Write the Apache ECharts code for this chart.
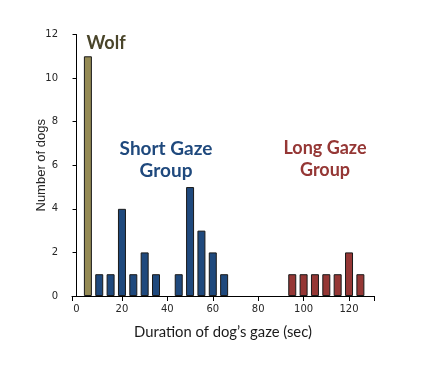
<!DOCTYPE html>
<html>
<head>
<meta charset="utf-8">
<script src="https://cdn.jsdelivr.net/npm/echarts@6/dist/echarts.min.js"></script>
<style>
  html, body { margin: 0; padding: 0; background: #ffffff; }
  #chart { width: 438px; height: 369px; }
</style>
</head>
<body>
<div id="chart"></div>
<script>
// ---- Data ----
const wolfX = [5];
const wolfY = [11];
const shortX = [10, 15, 20, 25, 30, 35, 45, 50, 55, 60, 65];
const shortY = [1, 1, 4, 1, 2, 1, 1, 5, 3, 2, 1];
const longX = [95, 100, 105, 110, 115, 120, 125];
const longY = [1, 1, 1, 1, 1, 2, 1];
const xTickLabels = [0, 20, 40, 60, 80, 100, 120];
const xTickMarks = [-2, 20, 40, 60, 80, 100, 120, 131];
const xTitle = 'Duration of dog\u2019s gaze (sec)';
const yTitle = 'Number of dogs';
const annWolf = 'Wolf';
const annShort = 'Short Gaze\nGroup';
const annLong = 'Long Gaze\nGroup';

const pair = (xs, ys) => xs.map((x, i) => [x, ys[i]]);

const chart = echarts.init(document.getElementById('chart'), null, { renderer: 'canvas' });

const barBase = {
  type: 'bar',
  barWidth: 8,
  barGap: '-100%',
  itemStyle: { borderColor: '#1a1a1a', borderWidth: 1 },
  silent: true
};

chart.setOption({
  backgroundColor: '#ffffff',
  animation: false,
  grid: { left: 72, right: 64, top: 34.5, bottom: 73, containLabel: false },
  xAxis: {
    type: 'value',
    min: -2,
    max: 131,
    name: xTitle,
    nameLocation: 'middle',
    nameGap: 29,
    nameMoveOverlap: false,
    nameTextStyle: { fontFamily: 'Lato', fontSize: 14.8, color: '#1a1a1a' },
    axisLine: { show: true, onZero: false, lineStyle: { color: '#000', width: 1 } },
    axisTick: { show: true, inside: false, length: 5, customValues: xTickMarks, lineStyle: { color: '#000' } },
    axisLabel: { customValues: xTickLabels, fontFamily: 'DejaVu Sans', fontSize: 10, color: '#262626', margin: 8 },
    splitLine: { show: false }
  },
  yAxis: {
    type: 'value',
    min: 0,
    max: 12,
    interval: 2,
    name: yTitle,
    nameLocation: 'middle',
    nameGap: 24,
    nameRotate: 90,
    nameMoveOverlap: false,
    nameTextStyle: { fontFamily: 'Liberation Sans', fontSize: 13, color: '#262626' },
    axisLine: { show: true, lineStyle: { color: '#000', width: 1 } },
    axisTick: { show: true, inside: false, length: 4, lineStyle: { color: '#000' } },
    axisLabel: { fontFamily: 'DejaVu Sans', fontSize: 10, color: '#262626', margin: 14 },
    splitLine: { show: false }
  },
  series: [
    Object.assign({}, barBase, { name: 'Wolf', data: pair(wolfX, wolfY), itemStyle: Object.assign({}, barBase.itemStyle, { color: '#948A54' }) }),
    Object.assign({}, barBase, { name: 'Short', data: pair(shortX, shortY), itemStyle: Object.assign({}, barBase.itemStyle, { color: '#1F497D' }) }),
    Object.assign({}, barBase, { name: 'Long', data: pair(longX, longY), itemStyle: Object.assign({}, barBase.itemStyle, { color: '#953735' }) })
  ],
  graphic: [
    { type: 'text', x: 86.5, y: 43, style: { text: annWolf, font: 'bold 18px Lato', fill: '#4A452A', align: 'left', verticalAlign: 'middle' } },
    { type: 'text', x: 166, y: 137.5, style: { text: annShort, font: 'bold 19px Lato', fill: '#1F497D', align: 'center', verticalAlign: 'top', lineHeight: 22 } },
    { type: 'text', x: 325, y: 137.5, style: { text: annLong, font: 'bold 18px Lato', fill: '#953735', align: 'center', verticalAlign: 'top', lineHeight: 22 } }
  ]
});
</script>
</body>
</html>
